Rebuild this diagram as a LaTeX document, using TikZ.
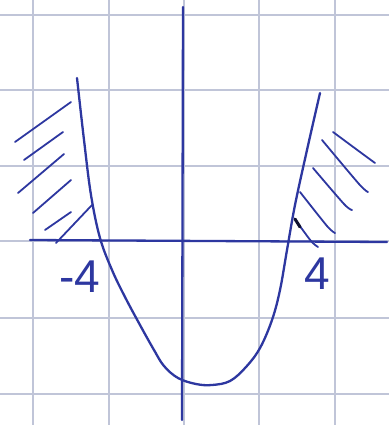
\documentclass[tikz,border=0pt]{standalone}
\usepackage{fontspec}
\setmainfont{Liberation Sans}
\definecolor{gridc}{RGB}{192,197,216}
\definecolor{ink}{RGB}{45,55,160}
\begin{document}
\begin{tikzpicture}[x=1pt,y=-1pt,
  gridline/.style={gridc,line width=1.1pt},
  inkline/.style={ink,line width=2.3pt,line cap=round,line join=round},
  hatch/.style={ink,line width=1.8pt,line cap=round,line join=round},
  lbl/.style={ink,font=\fontsize{46}{46}\selectfont,inner sep=0pt}]
\useasboundingbox[fill=white] (0,0) rectangle (389,425);
% grid
\foreach \gx in {33,109,184,259,335} \draw[gridline] (\gx,0) -- (\gx,425);
\foreach \gy in {15,90,166,241,318,394} \draw[gridline] (0,\gy) -- (389,\gy);
% axes
\coordinate (xl) at (30,240);
\coordinate (xr) at (387,242);
\coordinate (yt) at (183,7);
\coordinate (yb) at (182,420);
\draw[inkline] (xl) -- (xr);
\draw[inkline] (yt) -- (yb);
% parabola
\draw[inkline] plot[smooth,tension=0.6] coordinates {(77,78) (84,140) (91,195) (100,238) (112,270) (125,297) (140,325) (154,350) (164,366) (178,378) (196,384) (212,385) (230,381) (246,367) (260,348) (272,320) (280,290) (287,250) (295,205) (307,150) (320,93)};
% left hatching
\draw[hatch] (15,142) -- (71,102);
\draw[hatch] (24,160) -- (63,132);
\draw[hatch] (18,193) -- (64,154);
\draw[hatch] (33,213) -- (71,180);
\draw[hatch] (45,230) -- (71,212);
\draw[hatch] (56,243) -- (92,205);
% right hatching
\draw[hatch] plot[smooth] coordinates {(333,132) (360,152) (375,163)};
\draw[hatch] plot[smooth] coordinates {(322,140) (359,184) (368,192)};
\draw[hatch] plot[smooth] coordinates {(313,168) (344,204) (352,210)};
\draw[hatch] plot[smooth] coordinates {(300,192) (327,226) (335,233)};
\draw[hatch] plot[smooth] coordinates {(297,222) (311,241) (318,247)};
\draw[black!70!ink,line width=3pt,line cap=round] (295,219) -- (300,227);
% labels
\node[lbl] (m4) at (80,277) {-4};
\node[lbl] (p4) at (317,274) {4};
\end{tikzpicture}
\end{document}
